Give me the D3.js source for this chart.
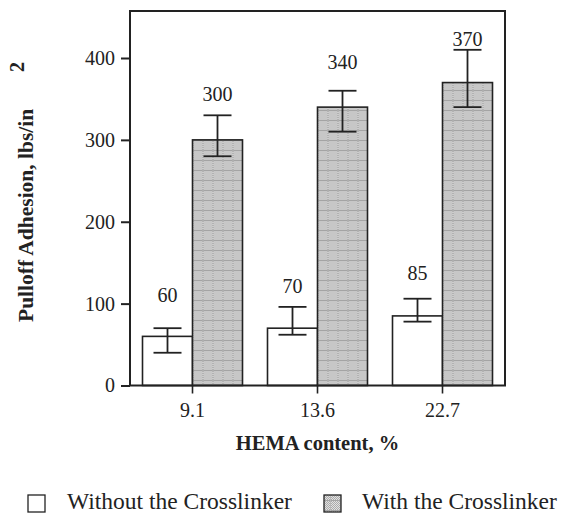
<!DOCTYPE html>
<html>
<head>
<meta charset="utf-8">
<script src="https://cdn.jsdelivr.net/npm/d3@7/dist/d3.min.js"></script>
<style>
  html, body { margin: 0; padding: 0; background: #fff; }
  svg { display: block; }
  text { font-family: "Liberation Serif", "Times New Roman", serif; fill: #222; }
</style>
</head>
<body>
<script>
// HEMA content categories (%)
const categories = ["9.1", "13.6", "22.7"];
const seriesNames = ["Without the Crosslinker", "With the Crosslinker"];

// Pulloff adhesion means (lbs/in²)
const withoutValues = [60, 70, 85];
const withValues = [300, 340, 370];

// Error bar extents (upper / lower)
const withoutHigh = [70, 96, 106];
const withoutLow = [40, 62, 78];
const withHigh = [330, 360, 410];
const withLow = [280, 310, 340];

// Level (in data units) at which each value label's baseline sits
const withoutLabelAt = [102, 113, 129];
const withLabelAt = [347, 386, 415];

const yTicks = [0, 100, 200, 300, 400];

const W = 562, H = 513;
const plot = { left: 130, right: 505, top: 11, bottom: 385.5 };

const svg = d3.select("body").append("svg")
  .attr("width", W).attr("height", H);

// Stippled fill for the crosslinked bars
const defs = svg.append("defs");
const pat = defs.append("pattern")
  .attr("id", "stipple")
  .attr("patternUnits", "userSpaceOnUse")
  .attr("width", 10).attr("height", 10);
pat.append("rect").attr("width", 10).attr("height", 10).attr("fill", "#e2e2e2");
for (let yy = 0; yy < 10; yy++) {
  for (let xx = 0; xx < 10; xx++) {
    if ((xx + yy) % 2 === 0) {
      pat.append("rect").attr("x", xx).attr("y", yy)
        .attr("width", 1).attr("height", 1).attr("fill", "#ababab");
    }
  }
}
pat.append("rect").attr("x", 0).attr("y", 0).attr("width", 10).attr("height", 1)
  .attr("fill", "#a4a4a4");
pat.append("rect").attr("x", 0).attr("y", 0).attr("width", 1).attr("height", 10)
  .attr("fill", "#b8b8b8");

const x = d3.scaleBand()
  .domain(categories)
  .range([plot.left, plot.right])
  .paddingInner(0.2)
  .paddingOuter(0.1);

const xSub = d3.scaleBand()
  .domain(seriesNames)
  .range([0, x.bandwidth()])
  .padding(0);

const y = d3.scaleLinear()
  .domain([0, 400])
  .range([plot.bottom, 58]);

const rows = categories.map((c, i) => ({
  cat: c,
  bars: [
    { s: seriesNames[0], v: withoutValues[i], hi: withoutHigh[i], lo: withoutLow[i], lab: withoutLabelAt[i], fill: "#ffffff" },
    { s: seriesNames[1], v: withValues[i], hi: withHigh[i], lo: withLow[i], lab: withLabelAt[i], fill: "url(#stipple)" }
  ]
}));

// Bars
const groups = svg.append("g").selectAll("g")
  .data(rows).join("g")
  .attr("transform", d => `translate(${x(d.cat)},0)`);

groups.selectAll("rect.bar")
  .data(d => d.bars).join("rect")
  .attr("class", "bar")
  .attr("x", d => xSub(d.s))
  .attr("y", d => y(d.v))
  .attr("width", xSub.bandwidth())
  .attr("height", d => y(0) - y(d.v))
  .attr("fill", d => d.fill)
  .attr("stroke", "#222")
  .attr("stroke-width", 1.6);

// Error bars
const capHalf = 14;
const eb = groups.selectAll("g.err")
  .data(d => d.bars).join("g")
  .attr("class", "err")
  .attr("stroke", "#222")
  .attr("stroke-width", 1.8);
eb.append("line")
  .attr("x1", d => xSub(d.s) + xSub.bandwidth() / 2)
  .attr("x2", d => xSub(d.s) + xSub.bandwidth() / 2)
  .attr("y1", d => y(d.lo)).attr("y2", d => y(d.hi));
eb.append("line")
  .attr("x1", d => xSub(d.s) + xSub.bandwidth() / 2 - capHalf)
  .attr("x2", d => xSub(d.s) + xSub.bandwidth() / 2 + capHalf)
  .attr("y1", d => y(d.hi)).attr("y2", d => y(d.hi));
eb.append("line")
  .attr("x1", d => xSub(d.s) + xSub.bandwidth() / 2 - capHalf)
  .attr("x2", d => xSub(d.s) + xSub.bandwidth() / 2 + capHalf)
  .attr("y1", d => y(d.lo)).attr("y2", d => y(d.lo));

// Value labels
groups.selectAll("text.val")
  .data(d => d.bars).join("text")
  .attr("class", "val")
  .attr("x", d => xSub(d.s) + xSub.bandwidth() / 2)
  .attr("y", d => y(d.lab))
  .attr("text-anchor", "middle")
  .attr("font-size", 20)
  .text(d => d.v);

// Frame
svg.append("rect")
  .attr("x", plot.left).attr("y", plot.top)
  .attr("width", plot.right - plot.left)
  .attr("height", plot.bottom - plot.top)
  .attr("fill", "none")
  .attr("stroke", "#222")
  .attr("stroke-width", 2);

// Y axis
const yAxis = svg.append("g")
  .attr("transform", `translate(${plot.left},0)`)
  .call(d3.axisLeft(y).tickValues(yTicks).tickSize(9).tickPadding(6));
yAxis.select(".domain").remove();
yAxis.selectAll(".tick line").attr("stroke", "#222").attr("stroke-width", 2);
yAxis.selectAll(".tick text")
  .attr("font-size", 20)
  .attr("font-family", "Liberation Serif, serif")
  .attr("fill", "#222");

// X axis
const xAxis = svg.append("g")
  .attr("transform", `translate(0,${plot.bottom})`)
  .call(d3.axisBottom(x).tickSize(8).tickPadding(9));
xAxis.select(".domain").remove();
xAxis.selectAll(".tick line").attr("stroke", "#222").attr("stroke-width", 1.6);
xAxis.selectAll(".tick text")
  .attr("font-size", 20)
  .attr("font-family", "Liberation Serif, serif")
  .attr("fill", "#222");

// Axis titles
svg.append("text")
  .attr("x", (plot.left + plot.right) / 2)
  .attr("y", 450)
  .attr("text-anchor", "middle")
  .attr("font-size", 20.5)
  .attr("font-weight", "bold")
  .text("HEMA content, %");

const yTitle = svg.append("text")
  .attr("transform", "translate(33,322) rotate(-90)")
  .attr("text-anchor", "start")
  .attr("font-size", 21.5)
  .attr("font-weight", "bold");
yTitle.append("tspan").text("Pulloff Adhesion, lbs/in");
svg.append("text")
  .attr("transform", "translate(24,72) rotate(-90)")
  .attr("text-anchor", "start")
  .attr("font-size", 20)
  .attr("font-weight", "bold")
  .text("2");

// Legend
const legend = svg.append("g");
const legendItems = [
  { name: seriesNames[0], fill: "#ffffff", bx: 28, tx: 67 },
  { name: seriesNames[1], fill: "url(#stipple)", bx: 324, tx: 362 }
];
const li = legend.selectAll("g").data(legendItems).join("g");
li.append("rect")
  .attr("x", d => d.bx).attr("y", 495)
  .attr("width", 17).attr("height", 17)
  .attr("fill", d => d.fill)
  .attr("stroke", "#222").attr("stroke-width", 1.3);
li.append("text")
  .attr("x", d => d.tx).attr("y", 509)
  .attr("font-size", 23.5)
  .text(d => d.name);
</script>
</body>
</html>
